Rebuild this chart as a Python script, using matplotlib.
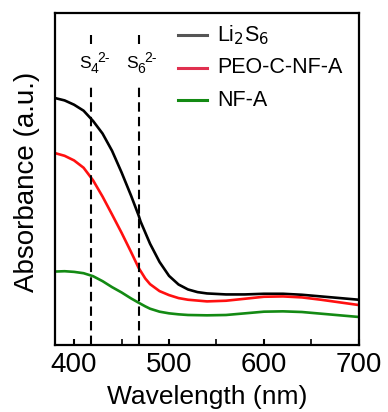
import matplotlib
matplotlib.use('Agg')
import matplotlib.pyplot as plt
from matplotlib.ticker import MultipleLocator

plt.rcParams['font.family'] = ['Liberation Sans', 'DejaVu Sans']

# wavelengths (nm) and absorbance (a.u.)
wl_li2s6 = [380, 390, 400, 410, 420, 430, 440, 450, 460, 468, 470, 480, 490, 500,
            510, 520, 530, 540, 560, 580, 600, 620, 640, 660, 680, 700]
abs_li2s6 = [0.744, 0.737, 0.724, 0.706, 0.675, 0.637, 0.585, 0.520, 0.450, 0.390,
             0.372, 0.305, 0.250, 0.208, 0.182, 0.167, 0.159, 0.155, 0.152, 0.152,
             0.154, 0.154, 0.151, 0.146, 0.141, 0.136]

wl_peo = [380, 390, 400, 410, 420, 430, 440, 450, 460, 468, 475, 480, 490, 500,
          510, 520, 540, 560, 580, 600, 620, 640, 660, 680, 700]
abs_peo = [0.578, 0.570, 0.556, 0.534, 0.496, 0.447, 0.393, 0.338, 0.280, 0.232,
           0.200, 0.183, 0.162, 0.150, 0.141, 0.136, 0.131, 0.133, 0.139, 0.145,
           0.146, 0.143, 0.136, 0.128, 0.120]

wl_nfa = [380, 390, 400, 410, 420, 430, 440, 450, 460, 468, 475, 480, 490, 500,
          510, 520, 540, 560, 580, 600, 620, 640, 660, 680, 700]
abs_nfa = [0.221, 0.222, 0.220, 0.216, 0.207, 0.192, 0.174, 0.158, 0.140, 0.127,
           0.116, 0.109, 0.100, 0.095, 0.092, 0.090, 0.089, 0.090, 0.095, 0.100,
           0.101, 0.099, 0.094, 0.089, 0.084]

peak_pos = [418, 468]
peak_base = ['S', 'S']
peak_sub = ['4', '6']
peak_sup = ['2-', '2-']

leg_labels = ['Li$_2$S$_6$', 'PEO-C-NF-A', 'NF-A']
leg_colors = ['#555555', '#e0304f', '#138a13']

fig = plt.figure(figsize=(3.88, 4.12), dpi=100)
ax = fig.add_axes([0.142, 0.163, 0.783, 0.805])

ax.plot(wl_li2s6, abs_li2s6, color='black', lw=1.9)
ax.plot(wl_peo, abs_peo, color='#ff1010', lw=1.9)
ax.plot(wl_nfa, abs_nfa, color='#138a13', lw=1.9)

# dashed markers for the polysulfide bands, with a gap for the label
for xp, b, sb, sp in zip(peak_pos, peak_base, peak_sub, peak_sup):
    ax.plot([xp, xp], [0.0, 0.783], color='black', lw=1.5, dashes=(4.5, 2.5))
    ax.plot([xp, xp], [0.908, 0.934], color='black', lw=1.5, dashes=(4.5, 2.5))
    ax.annotate(b, (xp, 0.834), xytext=(-12, 0), textcoords='offset pixels',
                ha='left', va='baseline', fontsize=12.5)
    ax.annotate(sb, (xp, 0.834), xytext=(-1, -5), textcoords='offset pixels',
                ha='left', va='baseline', fontsize=10)
    ax.annotate(sp, (xp, 0.834), xytext=(6, 6), textcoords='offset pixels',
                ha='left', va='baseline', fontsize=10)

# legend drawn by hand so the handle colours match the picture
for i, (lab, col) in enumerate(zip(leg_labels, leg_colors)):
    yy = 0.934 - i * 0.098
    ax.plot([509, 540], [yy, yy], color=col, lw=2.2)
    ax.text(551, yy, lab, ha='left', va='center', fontsize=15.5)

ax.set_xlim(380, 700)
ax.set_ylim(0, 1)
ax.xaxis.set_major_locator(MultipleLocator(100))
ax.xaxis.set_minor_locator(MultipleLocator(50))
ax.tick_params(axis='x', which='major', direction='in', length=4, width=1.5,
               labelsize=20, pad=5)
ax.tick_params(axis='x', which='minor', direction='in', length=4, width=1.2)
ax.set_yticks([])
for s in ax.spines.values():
    s.set_linewidth(1.6)

ax.set_xlabel('Wavelength (nm)', fontsize=19)
ax.xaxis.set_label_coords(0.5, -0.12)
ax.set_ylabel('Absorbance (a.u.)', fontsize=20)
ax.yaxis.set_label_coords(-0.05, 0.49)

fig.savefig('out.png', dpi=100)
